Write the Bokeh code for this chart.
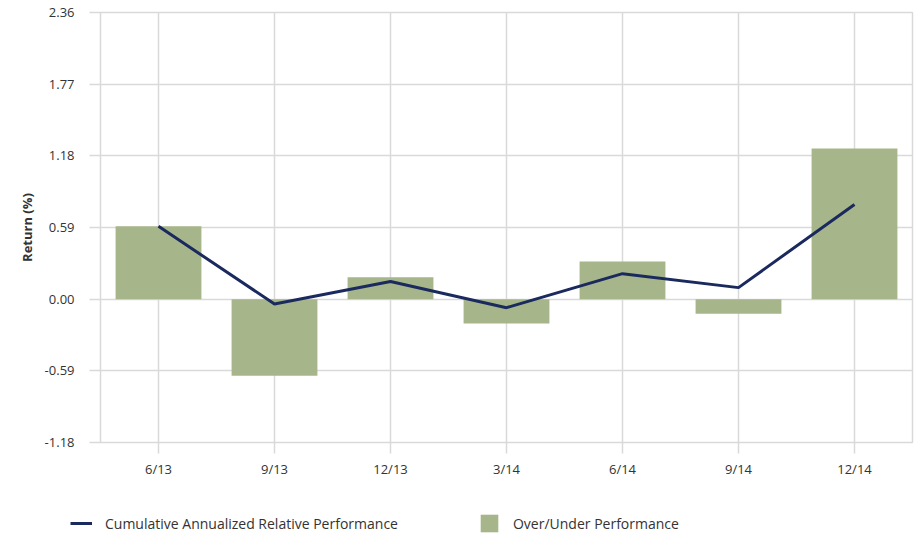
from bokeh.plotting import figure
from bokeh.layouts import column
from bokeh.models import (Range1d, FactorRange, FixedTicker, NumeralTickFormatter,
                          Legend, LegendItem, ColumnDataSource)
from bokeh.embed import file_html
from bokeh.resources import INLINE

categories = ["6/13", "9/13", "12/13", "3/14", "6/14", "9/14", "12/14"]
over_under = [0.60, -0.63, 0.18, -0.20, 0.31, -0.12, 1.24]
cumulative = [0.60, -0.04, 0.145, -0.07, 0.21, 0.095, 0.78]
y_ticks = [-1.18, -0.59, 0.00, 0.59, 1.18, 1.77, 2.36]
legend_labels = ["Cumulative Annualized Relative Performance", "Over/Under Performance"]

FONT = "Open Sans"
TXT = "#333333"
GRID = "#D9D9D9"
BAR = "#A7B68A"
LINE = "#1B2A5E"

src = ColumnDataSource(dict(cat=categories, ou=over_under, cum=cumulative))

p = figure(width=914, height=505, output_backend="svg", toolbar_location=None,
           x_range=FactorRange(*categories, range_padding=0),
           y_range=Range1d(-1.18, 2.36),
           min_border_left=100, min_border_right=2, min_border_top=12, min_border_bottom=63)

p.outline_line_color = GRID
p.outline_line_width = 1.5
p.background_fill_color = "white"
p.border_fill_color = "white"

p.xgrid.grid_line_color = GRID
p.xgrid.grid_line_width = 1.5
p.ygrid.grid_line_color = GRID
p.ygrid.grid_line_width = 1.5
p.yaxis.ticker = FixedTicker(ticks=y_ticks)
p.yaxis.formatter = NumeralTickFormatter(format="0.00")

for ax in (p.xaxis[0], p.yaxis[0]):
    ax.axis_line_color = None
    ax.major_tick_line_color = GRID
    ax.major_tick_line_width = 1.5
    ax.major_tick_out = 11
    ax.major_tick_in = 0
    ax.minor_tick_line_color = None
    ax.major_label_text_font = FONT
    ax.major_label_text_font_size = "13px"
    ax.major_label_text_color = TXT

p.xaxis.major_label_standoff = 6
p.yaxis.major_label_standoff = 15
p.yaxis.axis_label = "Return (%)"
p.yaxis.axis_label_text_font = FONT
p.yaxis.axis_label_text_font_style = "bold"
p.yaxis.axis_label_text_font_size = "13px"
p.yaxis.axis_label_text_color = TXT
p.yaxis.axis_label_standoff = 6

p.vbar(x="cat", top="ou", bottom=0, width=0.74, source=src,
       fill_color=BAR, line_color=None)
p.line(x="cat", y="cum", source=src, line_color=LINE, line_width=3)

# legend strip below the chart (legend swatches use off-screen proxy renderers)
lg = figure(width=914, height=30, output_backend="svg", toolbar_location=None,
            x_range=Range1d(0, 1), y_range=Range1d(0, 1),
            x_axis_location=None, y_axis_location=None,
            min_border=0, outline_line_color=None)
lg.frame_align = False
lg.grid.visible = False
lg_line = lg.line(x=[5, 6], y=[5, 5], line_color=LINE, line_width=3)
lg_bar = lg.vbar(x=[5], top=[5], width=0.5, fill_color=BAR, line_color=None)

legend = Legend(items=[
    LegendItem(label=legend_labels[0], renderers=[lg_line]),
    LegendItem(label=legend_labels[1], renderers=[lg_bar]),
], location=(70, 1), orientation="horizontal", spacing=80,
    padding=0, margin=0, border_line_color=None, background_fill_alpha=0,
    glyph_width=22, glyph_height=22, label_height=22, label_standoff=13,
    label_text_font=FONT, label_text_font_size="14px", label_text_color=TXT)
lg.add_layout(legend, "center")

open("out.html", "w").write(file_html(column(p, lg, spacing=0), INLINE))
